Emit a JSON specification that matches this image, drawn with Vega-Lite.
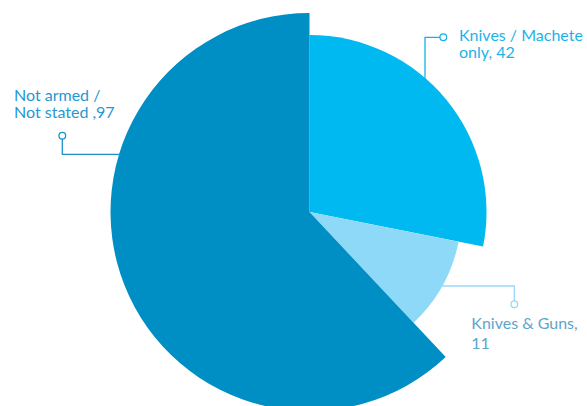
{
  "$schema": "https://vega.github.io/schema/vega-lite/v6.json",
  "width": 619,
  "height": 424,
  "padding": 0,
  "autosize": "none",
  "background": "white",
  "config": {"view": {"stroke": null}},
  "datasets": {
    "pie": [
      {"category": "Knives / Machete only", "label_value": 42, "drawn": 42.2, "rank": 1},
      {"category": "Knives & Guns", "label_value": 11, "drawn": 14.8, "rank": 2},
      {"category": "Not armed / Not stated", "label_value": 97, "drawn": 93.0, "rank": 3}
    ],
    "leaders": [
      {"category": "Knives / Machete only", "seq": 1, "x": 115.5, "y": 127},
      {"category": "Knives / Machete only", "seq": 2, "x": 115.5, "y": 174.7},
      {"category": "Knives / Machete only", "seq": 3, "x": 130.5, "y": 174.7},
      {"category": "Knives & Guns", "seq": 1, "x": 132.5, "y": -74},
      {"category": "Knives & Guns", "seq": 2, "x": 204.8, "y": -74},
      {"category": "Knives & Guns", "seq": 3, "x": 204.8, "y": -89},
      {"category": "Not armed / Not stated", "seq": 1, "x": -247.2, "y": 73},
      {"category": "Not armed / Not stated", "seq": 2, "x": -247.2, "y": 57.7},
      {"category": "Not armed / Not stated", "seq": 3, "x": -189, "y": 57.7}
    ],
    "ends": [
      {"category": "Knives / Machete only", "x": 133.8, "y": 174.7},
      {"category": "Knives & Guns", "x": 204.8, "y": -92.3},
      {"category": "Not armed / Not stated", "x": -247.2, "y": 76.3}
    ],
    "labels": [
      {"category": "Knives / Machete only", "x": 149.5, "y": 170.8, "text": ["Knives / Machete", "only, 42"]},
      {"category": "Not armed / Not stated", "x": -295.5, "y": 110.8, "text": ["Not armed /", "Not stated ,97"]}
    ],
    "labels2": [
      {"category": "Knives & Guns", "x": 161.8, "y": -116.7, "text": ["Knives & Guns,", "11"]}
    ]
  },
  "data": {"name": "pie"},
  "layer": [
    {
      "transform": [
        {"stack": "drawn", "groupby": [], "as": ["t0", "t1"], "sort": [{"field": "rank", "order": "ascending"}]},
        {"filter": "datum.rank === 1"}
      ],
      "mark": {"type": "arc", "outerRadius": 177},
      "encoding": {
        "theta": {"field": "t0", "type": "quantitative", "stack": null, "scale": {"domain": [0, 150]}},
        "theta2": {"field": "t1"},
        "color": {"field": "category", "type": "nominal", "legend": null,
          "scale": {"domain": ["Knives / Machete only", "Knives & Guns", "Not armed / Not stated"], "range": ["#00B9F0", "#8FD9F8", "#008FC5"]}}
      }
    },
    {
      "transform": [
        {"stack": "drawn", "groupby": [], "as": ["t0", "t1"], "sort": [{"field": "rank", "order": "ascending"}]},
        {"filter": "datum.rank === 2"}
      ],
      "mark": {"type": "arc", "outerRadius": 152},
      "encoding": {
        "theta": {"field": "t0", "type": "quantitative", "stack": null},
        "theta2": {"field": "t1"},
        "color": {"field": "category", "type": "nominal", "legend": null}
      }
    },
    {
      "transform": [
        {"stack": "drawn", "groupby": [], "as": ["t0", "t1"], "sort": [{"field": "rank", "order": "ascending"}]},
        {"filter": "datum.rank === 3"}
      ],
      "mark": {"type": "arc", "outerRadius": 199},
      "encoding": {
        "theta": {"field": "t0", "type": "quantitative", "stack": null},
        "theta2": {"field": "t1"},
        "color": {"field": "category", "type": "nominal", "legend": null}
      }
    },
    {
      "data": {"name": "leaders"},
      "mark": {"type": "line", "strokeWidth": 1.3, "interpolate": "linear"},
      "encoding": {
        "x": {"field": "x", "type": "quantitative", "axis": null, "scale": {"domain": [-309.5, 309.5], "nice": false, "zero": false}},
        "y": {"field": "y", "type": "quantitative", "axis": null, "scale": {"domain": [-212, 212], "nice": false, "zero": false}},
        "order": {"field": "seq"},
        "detail": {"field": "category"},
        "stroke": {"field": "category", "type": "nominal", "legend": null,
          "scale": {"domain": ["Knives / Machete only", "Knives & Guns", "Not armed / Not stated"], "range": ["#12B2EA", "#9AD9F6", "#1A93CC"]}}
      }
    },
    {
      "data": {"name": "ends"},
      "mark": {"type": "point", "filled": false, "fill": "white", "fillOpacity": 1, "size": 45, "strokeWidth": 1.3, "opacity": 1},
      "encoding": {
        "x": {"field": "x", "type": "quantitative"},
        "y": {"field": "y", "type": "quantitative"},
        "stroke": {"field": "category", "type": "nominal", "legend": null}
      }
    },
    {
      "data": {"name": "labels"},
      "mark": {"type": "text", "align": "left", "baseline": "alphabetic", "font": "Lato", "fontSize": 16, "lineHeight": 17},
      "encoding": {
        "x": {"field": "x", "type": "quantitative"},
        "y": {"field": "y", "type": "quantitative"},
        "text": {"field": "text"},
        "fill": {"field": "category", "type": "nominal", "legend": null,
          "scale": {"domain": ["Knives / Machete only", "Knives & Guns", "Not armed / Not stated"], "range": ["#1BB3EA", "#5DA5CB", "#1F98D2"]}}
      }
    },
    {
      "data": {"name": "labels2"},
      "mark": {"type": "text", "align": "left", "baseline": "alphabetic", "font": "Lato", "fontSize": 16, "lineHeight": 20},
      "encoding": {
        "x": {"field": "x", "type": "quantitative"},
        "y": {"field": "y", "type": "quantitative"},
        "text": {"field": "text"},
        "fill": {"field": "category", "type": "nominal", "legend": null}
      }
    }
  ]
}
